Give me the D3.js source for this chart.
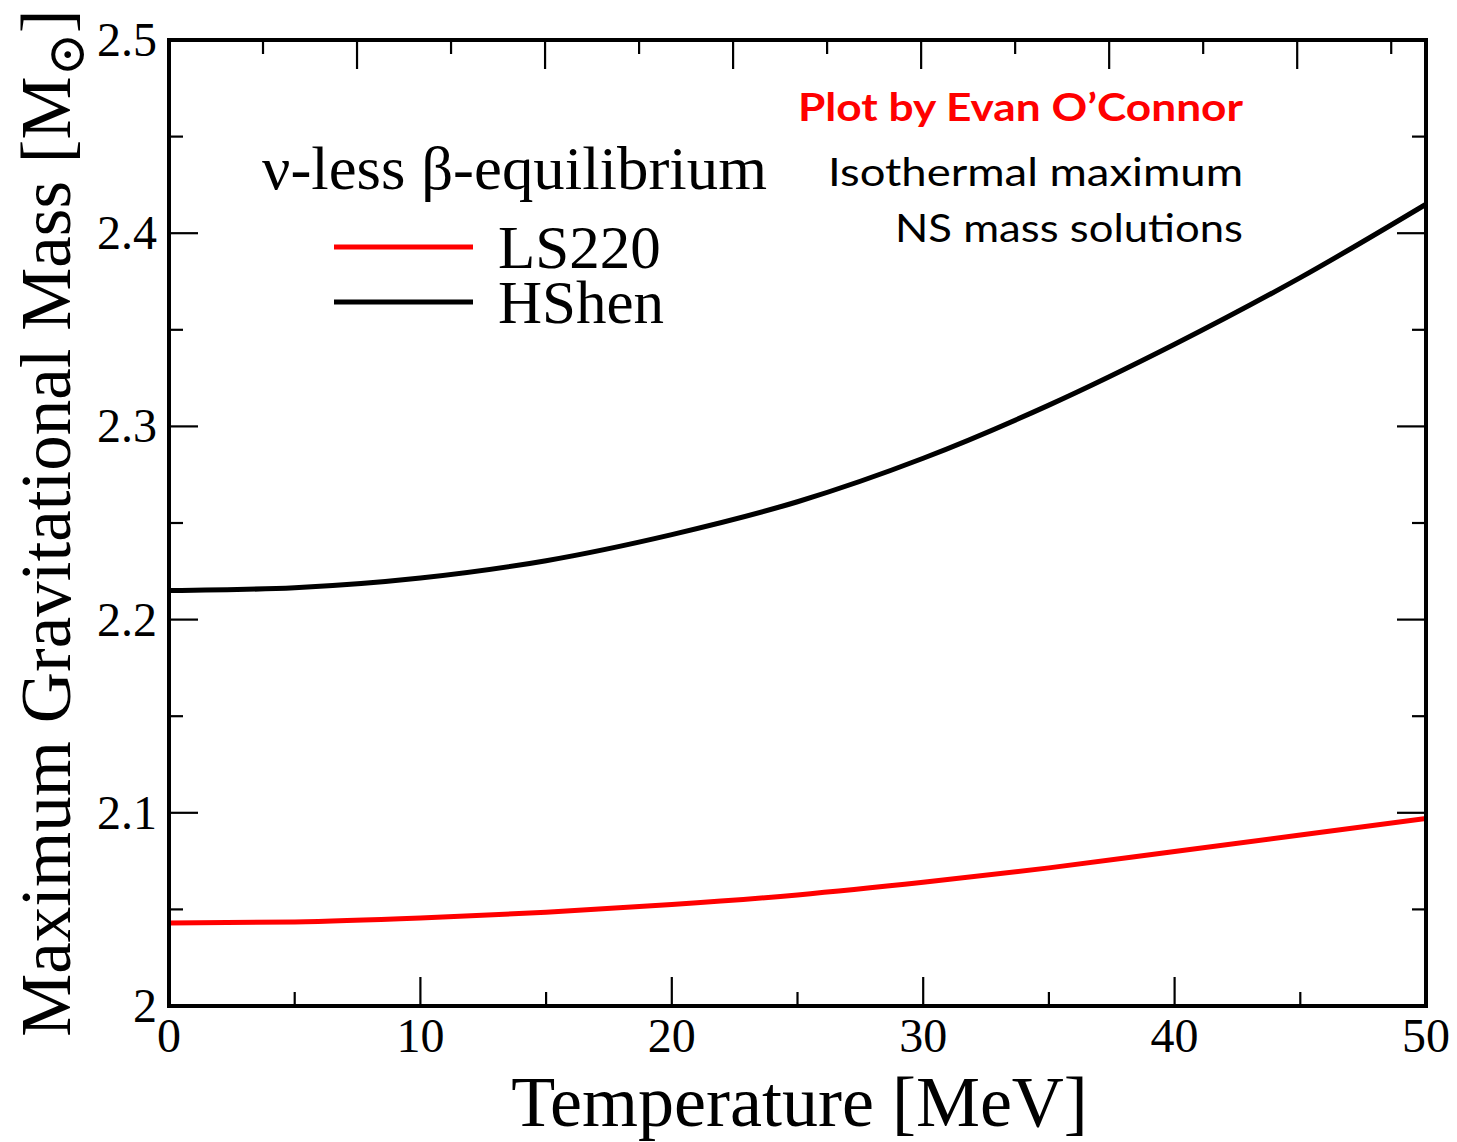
<!DOCTYPE html>
<html>
<head>
<meta charset="utf-8">
<script src="https://cdn.jsdelivr.net/npm/d3@7"></script>
<style>
  html, body { margin: 0; padding: 0; background: #fff; }
  svg { display: block; }
</style>
</head>
<body>
<svg id="chart" width="1457" height="1142"></svg>
<script>
// ---- data ----
const temperature = [0, 5, 10, 15, 20, 25, 30, 35, 40, 45, 50];
const hshen = [2.215, 2.2165, 2.2215, 2.2305, 2.244, 2.261, 2.2835, 2.311, 2.3425, 2.377, 2.415];
const ls220 = [2.043, 2.0435, 2.0455, 2.0485, 2.0525, 2.0575, 2.064, 2.0715, 2.080, 2.0885, 2.097];
const xMajorTicks = [0, 10, 20, 30, 40, 50];
const xMinorTicks = [5, 15, 25, 35, 45];
const yMajorTicks = [2.0, 2.1, 2.2, 2.3, 2.4, 2.5];
const yMinorTicks = [2.05, 2.15, 2.25, 2.35, 2.45];
const yTickLabels = ["2", "2.1", "2.2", "2.3", "2.4", "2.5"];
const topMajorTicks = [2, 4, 6, 8, 10, 12];
const topMinorTicks = [1, 3, 5, 7, 9, 11, 13];
const series = [
  { name: "LS220", color: "#ff0000", values: ls220 },
  { name: "HShen", color: "#000000", values: hshen }
];

// ---- layout ----
const L = 169, R = 1426, T = 40, B = 1006;
const svg = d3.select("#chart");
const x = d3.scaleLinear().domain([0, 50]).range([L, R]);
const y = d3.scaleLinear().domain([2.0, 2.5]).range([B, T]);
const xTop = d3.scaleLinear().domain([0, 13.37]).range([L, R]);
const serif = "'Liberation Serif', 'DejaVu Serif', serif";
const sans = "Lato, 'Open Sans', sans-serif";
const MAJ = 29, MIN = 14;

// curves (clip to plot)
svg.append("clipPath").attr("id", "clip")
  .append("rect").attr("x", L).attr("y", T).attr("width", R - L).attr("height", B - T);

const line = d3.line().curve(d3.curveMonotoneX);
series.forEach(s => {
  svg.append("path")
    .attr("clip-path", "url(#clip)")
    .attr("d", line(temperature.map((t, i) => [x(t), y(s.values[i])])))
    .attr("fill", "none")
    .attr("stroke", s.color)
    .attr("stroke-width", 5)
    .attr("stroke-linejoin", "round");
});

// ticks
const tg = svg.append("g").attr("stroke", "#000").attr("stroke-width", 2.2);
function vTicks(vals, scale, len) {
  vals.forEach(v => {
    tg.append("line").attr("x1", scale(v)).attr("x2", scale(v)).attr("y1", B).attr("y2", B - len);
  });
}
vTicks(xMajorTicks, x, MAJ);
vTicks(xMinorTicks, x, MIN);
topMajorTicks.forEach(v => tg.append("line").attr("x1", xTop(v)).attr("x2", xTop(v)).attr("y1", T).attr("y2", T + MAJ));
topMinorTicks.forEach(v => tg.append("line").attr("x1", xTop(v)).attr("x2", xTop(v)).attr("y1", T).attr("y2", T + MIN));
function hTicks(vals, len) {
  vals.forEach(v => {
    tg.append("line").attr("x1", L).attr("x2", L + len).attr("y1", y(v)).attr("y2", y(v));
    tg.append("line").attr("x1", R).attr("x2", R - len).attr("y1", y(v)).attr("y2", y(v));
  });
}
hTicks(yMajorTicks, MAJ);
hTicks(yMinorTicks, MIN);

// frame
svg.append("rect").attr("x", L).attr("y", T).attr("width", R - L).attr("height", B - T)
  .attr("fill", "none").attr("stroke", "#000").attr("stroke-width", 4);

// tick labels
svg.append("g").selectAll("text").data(xMajorTicks).join("text")
  .attr("x", d => x(d)).attr("y", 1052)
  .attr("text-anchor", "middle")
  .attr("font-family", serif).attr("font-size", 48)
  .text(d => d3.format("d")(d));

svg.append("g").selectAll("text").data(yMajorTicks).join("text")
  .attr("x", 157).attr("y", d => y(d) + 16)
  .attr("text-anchor", "end")
  .attr("font-family", serif).attr("font-size", 48)
  .text((d, i) => yTickLabels[i]);

// axis titles
svg.append("text")
  .attr("x", (L + R) / 2 + 2).attr("y", 1126)
  .attr("text-anchor", "middle")
  .attr("font-family", serif).attr("font-size", 72)
  .text("Temperature [MeV]");

const yl = svg.append("text")
  .attr("transform", "translate(70,523) rotate(-90)")
  .attr("text-anchor", "middle")
  .attr("font-family", serif).attr("font-size", 71);
yl.append("tspan").text("Maximum Gravitational Mass [M");
yl.append("tspan").attr("font-size", 52).attr("dy", 14).text("\u2299");
yl.append("tspan").attr("dy", -14).text("]");

// legend
svg.append("text")
  .attr("x", 262).attr("y", 189)
  .attr("font-family", serif).attr("font-size", 62)
  .attr("textLength", 505).attr("lengthAdjust", "spacingAndGlyphs")
  .text("\u03bd-less \u03b2-equilibrium");

series.forEach((s, i) => {
  const ly = 247 + i * 55;
  svg.append("line").attr("x1", 334).attr("x2", 473).attr("y1", ly).attr("y2", ly)
    .attr("stroke", s.color).attr("stroke-width", 5);
  svg.append("text").attr("x", 498).attr("y", ly + 21)
    .attr("font-family", serif).attr("font-size", 61)
    .text(s.name);
});

// annotations
svg.append("text")
  .attr("x", 1243).attr("y", 121).attr("text-anchor", "end")
  .attr("font-family", sans).attr("font-weight", "bold").attr("font-size", 39)
  .attr("fill", "#ff0000")
  .attr("textLength", 445).attr("lengthAdjust", "spacingAndGlyphs")
  .text("Plot by Evan O\u2019Connor");
svg.append("text")
  .attr("x", 1243).attr("y", 186).attr("text-anchor", "end")
  .attr("font-family", sans).attr("font-size", 39)
  .attr("textLength", 415).attr("lengthAdjust", "spacingAndGlyphs")
  .text("Isothermal maximum");
svg.append("text")
  .attr("x", 1243).attr("y", 242).attr("text-anchor", "end")
  .attr("font-family", sans).attr("font-size", 39)
  .attr("textLength", 348).attr("lengthAdjust", "spacingAndGlyphs")
  .text("NS mass solutions");
</script>
</body>
</html>
